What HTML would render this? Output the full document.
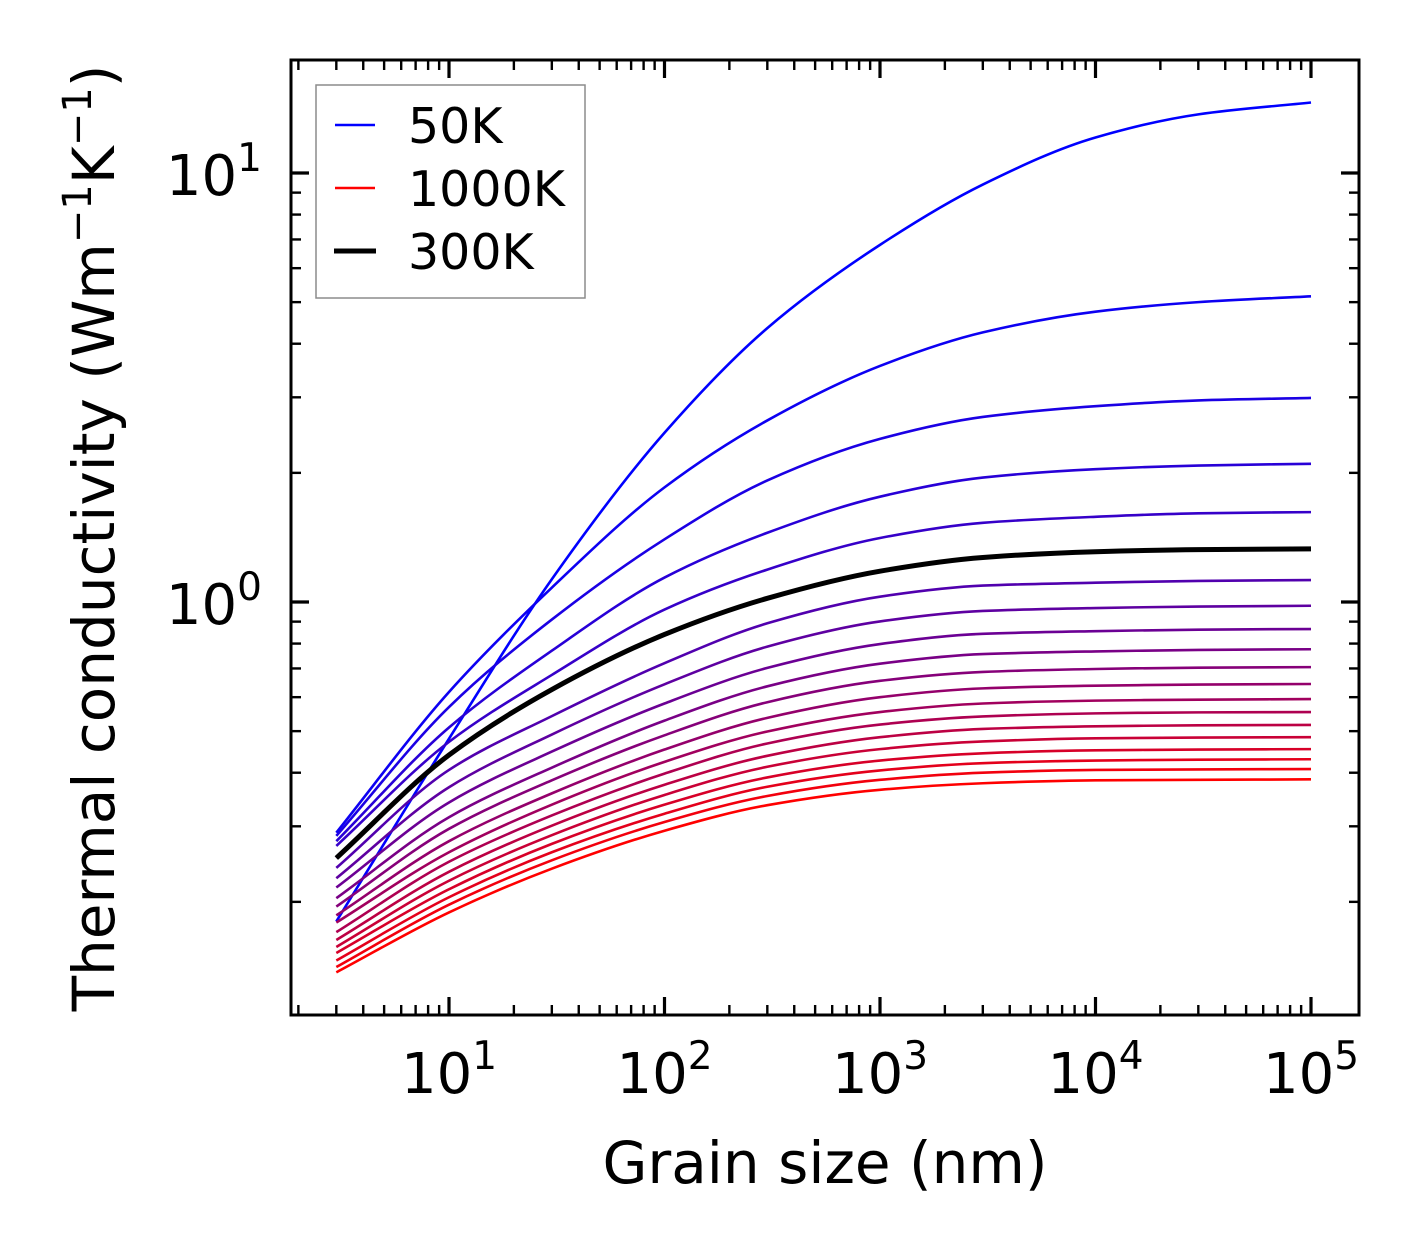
<!DOCTYPE html>
<html><head><meta charset="utf-8">
<style>
html,body{margin:0;padding:0;background:#fff;}
svg{display:block;font-family:"DejaVu Sans","Liberation Sans",sans-serif;}
</style></head>
<body>
<svg id="chart" width="1421" height="1254" viewBox="0 0 1421 1254" xmlns="http://www.w3.org/2000/svg">
  <rect x="0" y="0" width="1421" height="1254" fill="#fff"/>
  <g id="curves"></g>
  <g id="ticks"></g>
  <rect x="291" y="60" width="1068" height="955" fill="none" stroke="#000" stroke-width="3"/>
  <g id="ticklabels" font-size="56" fill="#000"></g>
  <text x="825" y="1183" font-size="58" text-anchor="middle">Grain size (nm)</text>
  <text transform="translate(114,538) rotate(-90)" font-size="58" text-anchor="middle">Thermal conductivity (Wm<tspan baseline-shift="super" font-size="40">−1</tspan>K<tspan baseline-shift="super" font-size="40">−1</tspan>)</text>
  <g>
    <rect x="316" y="85" width="269" height="213" fill="#fff" stroke="#8c8c8c" stroke-width="1.5"/>
    <g>
      <line x1="335" y1="125" x2="375" y2="125" stroke="#0000ff" stroke-width="2.4"/>
      <text x="408" y="143" font-size="49">50K</text>
    </g>
    <g>
      <line x1="335" y1="188" x2="375" y2="188" stroke="#ff0000" stroke-width="2.4"/>
      <text x="408" y="206" font-size="49">1000K</text>
    </g>
    <g>
      <line x1="334" y1="251" x2="376" y2="251" stroke="#000" stroke-width="5"/>
      <text x="408" y="269" font-size="49">300K</text>
    </g>
  </g>
</svg>
<script>
// ---- data ----
const grainSizes = [3, 10, 30, 100, 300, 1000, 3000, 10000, 30000, 100000];
const temperatures = [50,100,150,200,250,300,350,400,450,500,550,600,650,700,750,800,850,900,950,1000];
const k50   = [0.18, 0.48, 1.13, 2.48, 4.35, 6.8, 9.4, 12.1, 13.7, 14.6];
const k100  = [0.29, 0.617, 1.08, 1.85, 2.65, 3.55, 4.25, 4.75, 5.0, 5.16];
const k150  = [0.285, 0.569, 0.91, 1.40, 1.92, 2.40, 2.70, 2.86, 2.95, 2.99];
const k200  = [0.277, 0.51, 0.77, 1.14, 1.45, 1.76, 1.95, 2.04, 2.08, 2.10];
const k250  = [0.27, 0.472, 0.676, 0.96, 1.19, 1.41, 1.53, 1.58, 1.61, 1.62];
const k300  = [0.253, 0.44, 0.625, 0.84, 1.02, 1.18, 1.27, 1.31, 1.325, 1.33];
const k350  = [0.240, 0.406, 0.542, 0.720, 0.892, 1.029, 1.092, 1.109, 1.12, 1.125];
const k400  = [0.227, 0.370, 0.491, 0.643, 0.787, 0.901, 0.953, 0.968, 0.976, 0.98];
const k450  = [0.216, 0.341, 0.448, 0.580, 0.702, 0.798, 0.843, 0.855, 0.862, 0.865];
const k500  = [0.204, 0.315, 0.411, 0.529, 0.636, 0.718, 0.756, 0.767, 0.773, 0.776];
const k550  = [0.195, 0.296, 0.384, 0.489, 0.584, 0.655, 0.687, 0.698, 0.703, 0.705];
const k600  = [0.186, 0.277, 0.358, 0.453, 0.537, 0.600, 0.629, 0.638, 0.642, 0.644];
const k650  = [0.179, 0.261, 0.337, 0.424, 0.499, 0.554, 0.580, 0.589, 0.592, 0.594];
const k700  = [0.170, 0.248, 0.318, 0.398, 0.468, 0.518, 0.541, 0.550, 0.553, 0.554];
const k750  = [0.163, 0.235, 0.301, 0.375, 0.438, 0.484, 0.506, 0.513, 0.516, 0.517];
const k800  = [0.157, 0.224, 0.286, 0.355, 0.413, 0.454, 0.473, 0.481, 0.483, 0.484];
const k850  = [0.152, 0.214, 0.273, 0.337, 0.390, 0.427, 0.444, 0.451, 0.453, 0.454];
const k900  = [0.146, 0.205, 0.261, 0.321, 0.371, 0.405, 0.421, 0.427, 0.429, 0.43];
const k950  = [0.141, 0.197, 0.250, 0.307, 0.353, 0.385, 0.400, 0.406, 0.407, 0.408];
const k1000 = [0.137, 0.189, 0.239, 0.293, 0.336, 0.365, 0.378, 0.384, 0.385, 0.386];
const seriesList = [k50,k100,k150,k200,k250,k300,k350,k400,k450,k500,k550,k600,k650,k700,k750,k800,k850,k900,k950,k1000];
const highlightTemp = 300;
const xTickExps = [1, 2, 3, 4, 5];
const yTickExps = [0, 1];

// ---- axes ----
const PX = {left:291, right:1359, top:60, bottom:1015};
const X_DECADE = 215.5, X_REF = 449;
const Y_DECADE = 429, Y_REF = 602;
function xScale(v){ return X_REF + (Math.log10(v) - 1) * X_DECADE; }
function yScale(v){ return Y_REF - Math.log10(v) * Y_DECADE; }
const xMin = Math.pow(10, 1 + (PX.left - X_REF) / X_DECADE);
const xMax = Math.pow(10, 1 + (PX.right - X_REF) / X_DECADE);
const yMin = Math.pow(10, (Y_REF - PX.bottom) / Y_DECADE);
const yMax = Math.pow(10, (Y_REF - PX.top) / Y_DECADE);

const NS = 'http://www.w3.org/2000/svg';

// monotone cubic (Fritsch-Carlson) through points in log-log space
function pathFor(vals){
  const xs = grainSizes.map(g => xScale(g));
  const ys = vals.map(v => yScale(v));
  const m = xs.length;
  const d = [], s = [];
  for (let i=0;i<m-1;i++) d.push((ys[i+1]-ys[i])/(xs[i+1]-xs[i]));
  s[0] = d[0]; s[m-1] = d[m-2];
  for (let i=1;i<m-1;i++){
    if (d[i-1]*d[i] <= 0) s[i] = 0;
    else {
      const h0 = xs[i]-xs[i-1], h1 = xs[i+1]-xs[i];
      const w1 = 2*h1+h0, w2 = h1+2*h0;
      s[i] = (w1+w2)/(w1/d[i-1] + w2/d[i]);
    }
  }
  let p = 'M' + xs[0].toFixed(2) + ',' + ys[0].toFixed(2);
  for (let i=0;i<m-1;i++){
    const h = xs[i+1]-xs[i];
    p += ' C' + (xs[i]+h/3).toFixed(2) + ',' + (ys[i]+s[i]*h/3).toFixed(2) + ' ' +
         (xs[i+1]-h/3).toFixed(2) + ',' + (ys[i+1]-s[i+1]*h/3).toFixed(2) + ' ' +
         xs[i+1].toFixed(2) + ',' + ys[i+1].toFixed(2);
  }
  return p;
}

const curves = document.getElementById('curves');
const n = seriesList.length;
let hlVals = null;
seriesList.forEach((vals, i) => {
  const t = n > 1 ? i/(n-1) : 0;
  const r = Math.round(255*t), b = Math.round(255*(1-t));
  const p = document.createElementNS(NS,'path');
  p.setAttribute('d', pathFor(vals));
  p.setAttribute('fill','none');
  p.setAttribute('stroke','rgb('+r+',0,'+b+')');
  p.setAttribute('stroke-width','2.6');
  
  
  curves.appendChild(p);
  if (temperatures[i] === highlightTemp) hlVals = vals;
});
if (hlVals){
  const p = document.createElementNS(NS,'path');
  p.setAttribute('d', pathFor(hlVals));
  p.setAttribute('fill','none');
  p.setAttribute('stroke','#000');
  p.setAttribute('stroke-width','5');
  
  
  curves.appendChild(p);
}

// ---- ticks ----
const ticks = document.getElementById('ticks');
function tick(x1,y1,x2,y2,w,name){
  const l = document.createElementNS(NS,'line');
  l.setAttribute('x1',x1); l.setAttribute('y1',y1); l.setAttribute('x2',x2); l.setAttribute('y2',y2);
  l.setAttribute('stroke','#000'); l.setAttribute('stroke-width',w);
  
  
  ticks.appendChild(l);
}
const MAJ = 18, MIN = 10;
for (let e = Math.floor(Math.log10(xMin)); e <= Math.ceil(Math.log10(xMax)); e++){
  for (let mm = 1; mm <= 9; mm++){
    const v = mm * Math.pow(10, e);
    if (v < xMin || v > xMax) continue;
    const x = xScale(v), len = mm === 1 ? MAJ : MIN, w = mm === 1 ? 3.2 : 2.4;
    tick(x, PX.bottom, x, PX.bottom - len, w, mm===1 ? 'x-major-tick' : 'x-minor-tick');
    tick(x, PX.top, x, PX.top + len, w, mm===1 ? 'x-major-tick-top' : 'x-minor-tick-top');
  }
}
for (let e = Math.floor(Math.log10(yMin)); e <= Math.ceil(Math.log10(yMax)); e++){
  for (let mm = 1; mm <= 9; mm++){
    const v = mm * Math.pow(10, e);
    if (v < yMin || v > yMax) continue;
    const y = yScale(v), len = mm === 1 ? MAJ : MIN, w = mm === 1 ? 3.2 : 2.4;
    tick(PX.left, y, PX.left + len, y, w, mm===1 ? 'y-major-tick' : 'y-minor-tick');
    tick(PX.right, y, PX.right - len, y, w, mm===1 ? 'y-major-tick-right' : 'y-minor-tick-right');
  }
}

// ---- tick labels ----
const tl = document.getElementById('ticklabels');
function powLabel(x, y, exp, anchor, name){
  const t = document.createElementNS(NS,'text');
  t.setAttribute('x', x); t.setAttribute('y', y);
  t.setAttribute('text-anchor', anchor);
  
  
  t.appendChild(document.createTextNode('10'));
  const s = document.createElementNS(NS,'tspan');
  s.setAttribute('font-size','39');
  s.setAttribute('dy','-24');
  s.textContent = String(exp);
  t.appendChild(s);
  tl.appendChild(t);
}
xTickExps.forEach(e => powLabel(xScale(Math.pow(10,e)) + 0, 1093, e, 'middle', 'x-tick-label-1e' + e));
yTickExps.forEach(e => powLabel(262, yScale(Math.pow(10,e)) + 22, e, 'end', 'y-tick-label-1e' + e));
</script>
</body></html>
